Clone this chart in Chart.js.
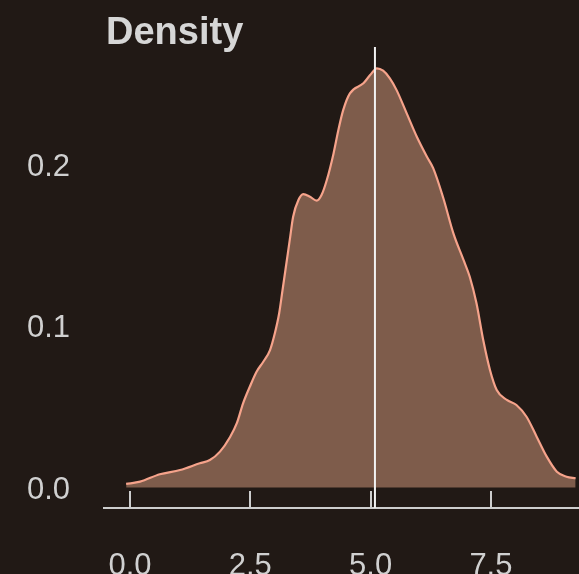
<!DOCTYPE html>
<html>
<head>
<meta charset="utf-8">
<script src="https://cdn.jsdelivr.net/npm/chart.js@4.4.1/dist/chart.umd.min.js"></script>
<style>
  html, body { margin:0; padding:0; background:#211915; overflow:hidden }
  canvas { display:block }
</style>
</head>
<body>
<canvas id="chart" width="579" height="574"></canvas>
<script>
// density curve
const densityX = [-0.08, 0.21, 0.62, 1.04, 1.45, 1.66, 1.87, 2.08, 2.22, 2.35, 2.49, 2.63, 2.77, 2.91,
  3.01, 3.10, 3.17, 3.26, 3.32, 3.39, 3.50, 3.60, 3.74, 3.88, 3.98, 4.09, 4.23, 4.33, 4.43, 4.57,
  4.85, 4.99, 5.13, 5.26, 5.40, 5.54, 5.75, 5.96, 6.17, 6.30, 6.51, 6.72, 6.93, 7.06, 7.20, 7.34,
  7.48, 7.62, 7.83, 8.03, 8.24, 8.45, 8.66, 8.87, 9.07, 9.26]
const densityY = [0.0022, 0.0036, 0.0082, 0.0108, 0.0150, 0.0170, 0.0222, 0.0313, 0.0398, 0.0521,
  0.0624, 0.0717, 0.0779, 0.0851, 0.0955, 0.1079, 0.1223, 0.1409, 0.1533, 0.1677, 0.1780, 0.1817,
  0.1801, 0.1776, 0.1811, 0.1904, 0.2069, 0.2214, 0.2337, 0.2441, 0.2503, 0.2554, 0.2596, 0.2581,
  0.2534, 0.2461, 0.2317, 0.2172, 0.2048, 0.1978, 0.1793, 0.1574, 0.1409, 0.1305, 0.1141, 0.0913,
  0.0728, 0.0604, 0.0542, 0.0511, 0.0438, 0.0315, 0.0191, 0.0098, 0.0067, 0.0057]
const meanValue = 5.09

const xTicks = [0, 2.5, 5, 7.5]
const xTickLabels = ['0.0', '2.5', '5.0', '7.5']
const yTicks = [0, 0.1, 0.2]
const yTickLabels = ['0.0', '0.1', '0.2']

const xRange = [-0.54, 9.33]
const yRange = [-0.0127, 0.2728]

const textColor = '#d0d0d0'
const axisColor = '#cdcdcd'

// title drawn above the plot area
const titlePlugin = {
  id: 'densityTitle',
  afterDraw(chart){
    const ctx = chart.ctx
    ctx.save()
    ctx.font = 'bold 38px "Liberation Sans", Arial, sans-serif'
    ctx.fillStyle = '#d6d6d6'
    ctx.textBaseline = 'alphabetic'
    ctx.textAlign = 'left'
    ctx.fillText('Density', chart.chartArea.left + 2, 44)
    ctx.restore()
  }
}

const points = densityX.map((x,i)=>({x, y: densityY[i]}))

new Chart(document.getElementById('chart').getContext('2d'), {
  type: 'line',
  data: {
    datasets: [
      {
        data: [{x: meanValue, y: yRange[0]}, {x: meanValue, y: yRange[1]}],
        borderColor: '#f2f2f2', borderWidth: 2, pointRadius: 0, fill: false
      },
      {
        data: points,
        borderColor: '#f6a38b', borderWidth: 2.2, backgroundColor: '#7e5c4b',
        pointRadius: 0, fill: 'origin', cubicInterpolationMode: 'monotone'
      }
    ]
  },
  options: {
    responsive: false,
    animation: false,
    layout: { padding: { top: 47, left: 0, right: 0, bottom: 0 } },
    plugins: { legend: { display: false }, tooltip: { enabled: false }, title: { display: false } },
    scales: {
      x: {
        type: 'linear', min: xRange[0], max: xRange[1],
        afterBuildTicks: s => { s.ticks = xTicks.map(v=>({value:v})) },
        afterFit: s => { s.height = 66; s.paddingLeft = 0; s.paddingRight = 0 },
        border: { display: true, color: axisColor, width: 2 },
        grid: { drawOnChartArea: false, color: axisColor, lineWidth: 2, tickLength: -17 },
        ticks: {
          color: textColor, padding: 57, maxRotation: 0, autoSkip: false,
          font: { family: '"Liberation Sans", Arial, sans-serif', size: 31 },
          callback: (v) => xTickLabels[xTicks.indexOf(v)]
        }
      },
      y: {
        type: 'linear', min: yRange[0], max: yRange[1],
        afterBuildTicks: s => { s.ticks = yTicks.map(v=>({value:v})) },
        afterFit: s => { s.width = 104; s.paddingTop = 0; s.paddingBottom = 0 },
        border: { display: false },
        grid: { display: false, drawTicks: false },
        ticks: {
          color: textColor, padding: 34, labelOffset: 2.5,
          font: { family: '"Liberation Sans", Arial, sans-serif', size: 31 },
          callback: (v) => yTickLabels[yTicks.indexOf(v)]
        }
      }
    }
  },
  plugins: [titlePlugin]
})
</script>
</body>
</html>
